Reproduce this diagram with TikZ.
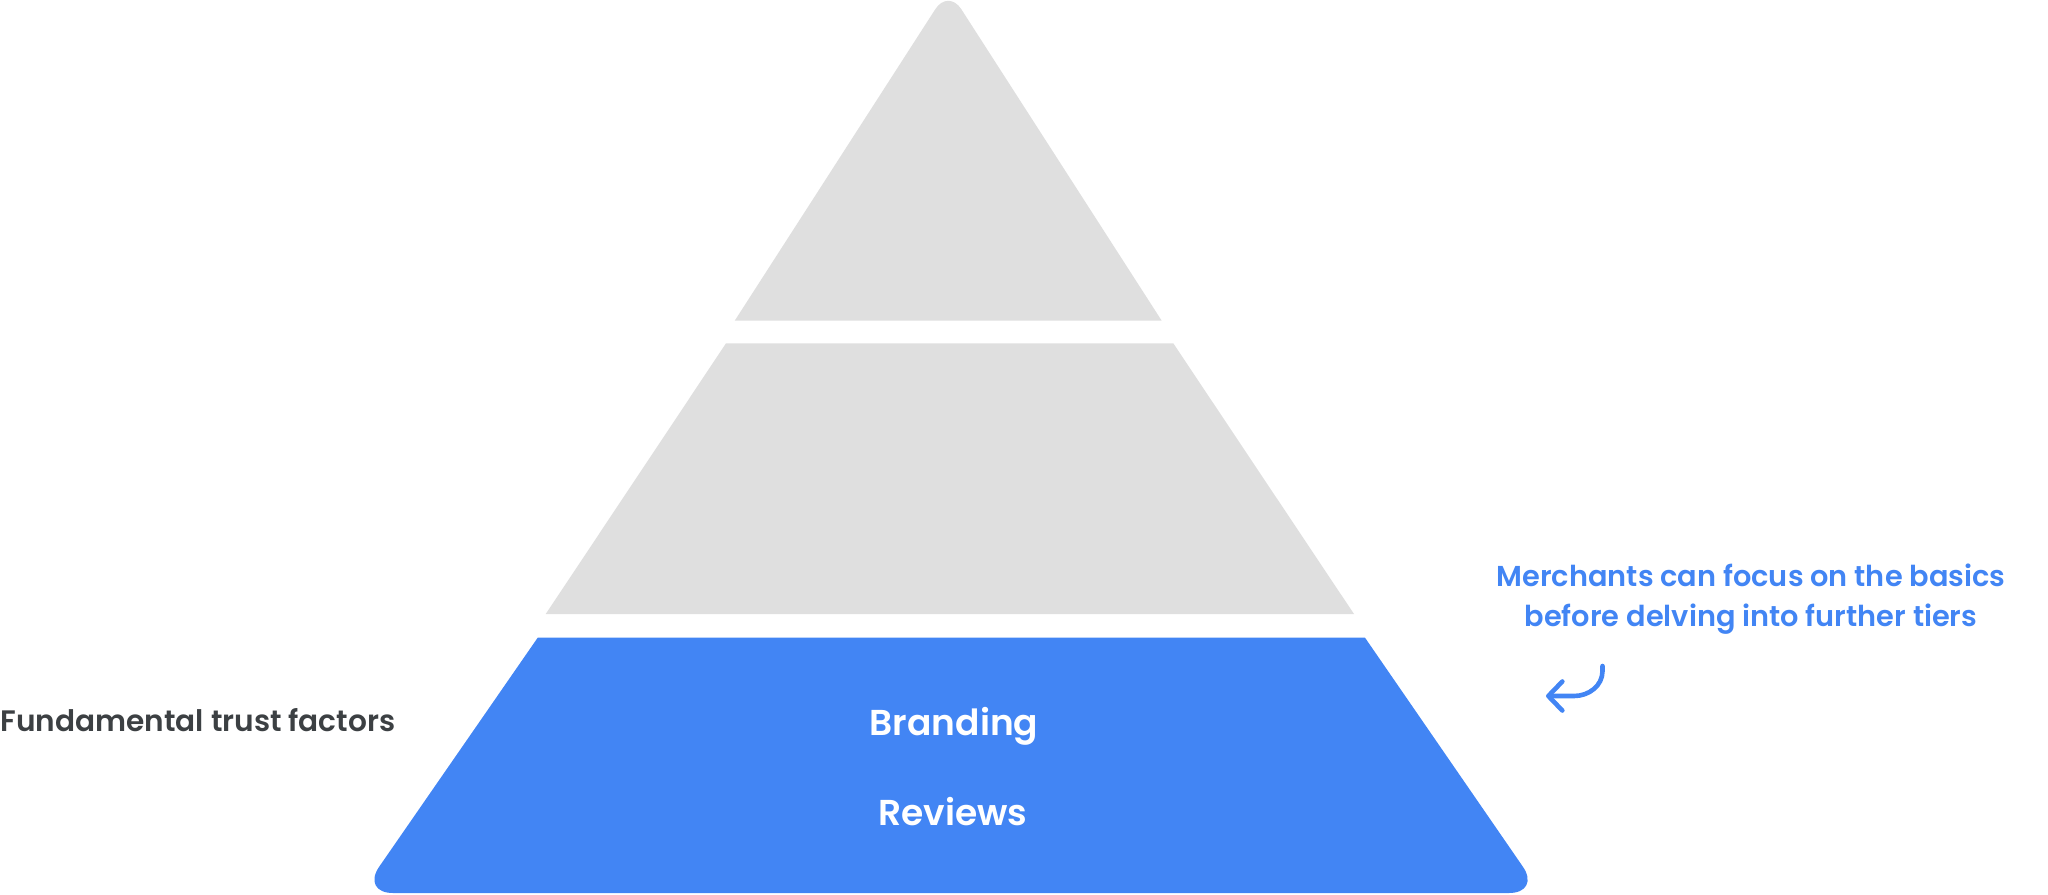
\documentclass[tikz,border=0pt]{standalone}
\usepackage{fontspec}
\setmainfont{Poppins}[UprightFont=* SemiBold]
\usetikzlibrary{arrows.meta}
\definecolor{tierblue}{HTML}{4285F4}
\definecolor{tiergray}{HTML}{DFDFDF}
\definecolor{labelgray}{HTML}{3C4043}

\begin{document}
\begin{tikzpicture}[x=0.5pt, y=-0.5pt,
    tierlabel/.style={font=\fontsize{18}{22}\selectfont, text=white,
      inner sep=0pt, anchor=base},
    sidelabel/.style={font=\fontsize{14.8}{18}\selectfont, text=labelgray,
      inner sep=0pt, anchor=base west},
    notelabel/.style={font=\fontsize{14.4}{20.35}\selectfont, text=tierblue,
      align=center, inner sep=0pt, anchor=base},
    notearrow/.style={draw=tierblue, line width=2.3pt, line cap=round,
      -{Straight Barb[length=7pt, width=14.5pt, round]}}]
  \useasboundingbox (0,0) rectangle (2048,894);
  % ---------- top tier ----------
  \fill[tiergray] (734.7,320.7) [rounded corners=12pt] -- (948.3,-11)
    [sharp corners] -- (1161.7,320.7) -- cycle;
  % ---------- middle tier ----------
  \fill[tiergray] (726,343.3) -- (1173.3,343.3) -- (1354,614)
    -- (545.7,614) -- cycle;
  % ---------- bottom tier ----------
  \fill[tierblue] (537.7,637.7) -- (1365,637.7) [rounded corners=16pt]
    -- (1541,893) -- (361,893) [sharp corners] -- cycle;
  \node[tierlabel] (branding) at (954,735) {Branding};
  \node[tierlabel] (reviews) at (953,825) {Reviews};
  \node[sidelabel] (trust) at (0,731.7) {Fundamental trust factors};
  % ---------- note ----------
  \node[notelabel] (note) at (1751,626.7)
    {Merchants can focus on the basics\\before delving into further tiers};
  \coordinate (curlstart) at (1602.5,666);
  \coordinate (curltip) at (1546,696);
  \draw[notearrow] (curlstart) -- ++(0,5) to[out=-90, in=0] (1574,696)
    -- (curltip);
\end{tikzpicture}
\end{document}
